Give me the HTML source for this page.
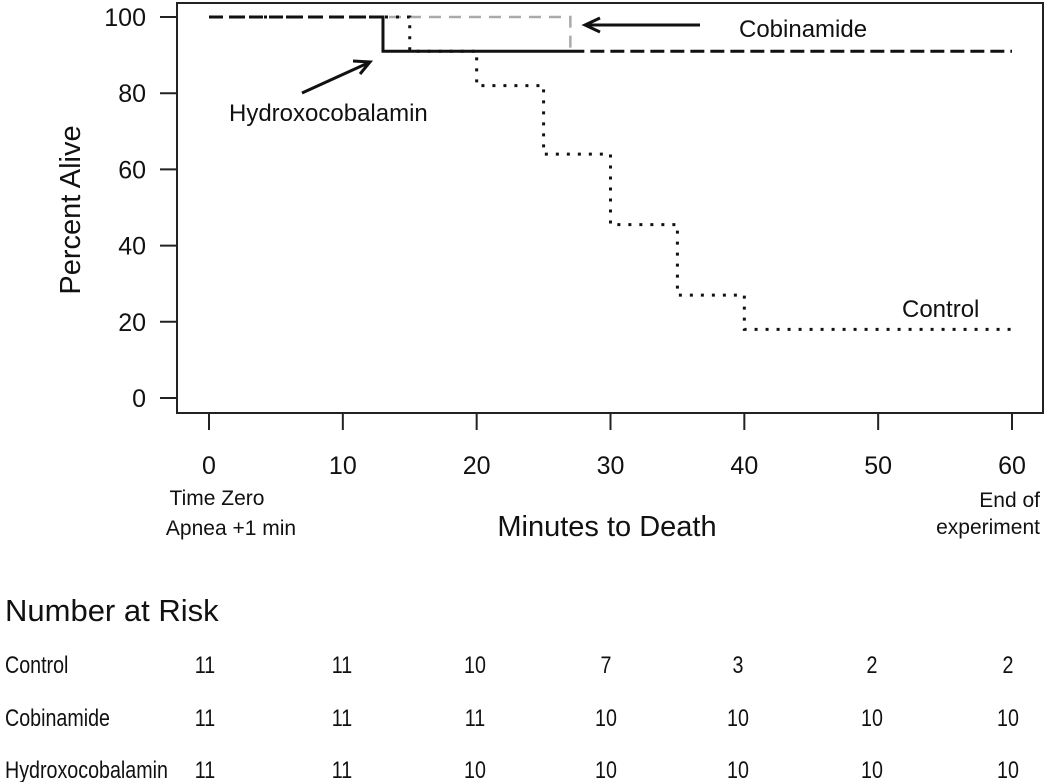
<!DOCTYPE html>
<html><head><meta charset="utf-8"><style>
body{margin:0;background:#fff}
svg{display:block;font-family:"Liberation Sans",sans-serif}
</style></head><body>
<svg id="c" width="1050" height="782" xmlns="http://www.w3.org/2000/svg"></svg>
<script>
const xTicks=[0,10,20,30,40,50,60];
const yTicks=[0,20,40,60,80,100];
const controlT=[0,15,20,25,30,35,40,60];
const controlS=[100,91,82,64,45.5,27,18,18];
const cobT=[0,27,60];
const cobS=[100,91,91];
const hydT=[0,13,60];
const hydS=[100,91,91];
const riskGroups=["Control","Cobinamide","Hydroxocobalamin"];
const riskControl=[11,11,10,7,3,2,2];
const riskCob=[11,11,11,10,10,10,10];
const riskHyd=[11,11,10,10,10,10,10];
const riskX=[205,342,475,606,738,872,1008];

const NS="http://www.w3.org/2000/svg";
const svg=document.getElementById('c');
const X=t=>209+t*(1012-209)/60;
const Y=v=>398-v*(398-17)/100;
function el(tag,attrs,parent){const e=document.createElementNS(NS,tag);for(const k in attrs)e.setAttribute(k,attrs[k]);(parent||svg).appendChild(e);return e;}
function txt(s,x,y,size,anchor,name,extra){const e=el('text',Object.assign({x:x,y:y,'font-size':size,'text-anchor':anchor||'start',fill:'#111'},extra||{}));e.textContent=s;


return e;}
const box=el('rect',{x:177,y:3,width:866,height:410,fill:'none',stroke:'#222','stroke-width':2});


xTicks.forEach(t=>{const l=el('line',{x1:X(t),x2:X(t),y1:413,y2:430,stroke:'#222','stroke-width':2});


txt(String(t),X(t),474,25,'middle','x-tick-label');});
yTicks.forEach(v=>{const l=el('line',{x1:160,x2:177,y1:Y(v),y2:Y(v),stroke:'#222','stroke-width':2});


txt(String(v),146,Y(v)+9,25,'end','y-tick-label');});
function stepPath(T,S){let d=`M${X(T[0])},${Y(S[0])}`;for(let i=1;i<T.length;i++){d+=` H${X(T[i])}`;if(S[i]!==S[i-1])d+=` V${Y(S[i])}`;}return d;}
const cob=el('path',{d:stepPath(cobT,cobS),fill:'none',stroke:'#aaa','stroke-width':2.5,'stroke-dasharray':'12,8'});


const hyd=el('path',{d:stepPath(hydT,hydS),fill:'none',stroke:'#111','stroke-width':3});


const ov=el('path',{d:`M${X(cobT[1])},${Y(91)} H${X(60)} M${X(0)},${Y(100)} H${X(hydT[1])}`,fill:'none',stroke:'#fff','stroke-width':4,'stroke-dasharray':'0,14,6,0'});


const ctl=el('path',{d:stepPath(controlT,controlS),fill:'none',stroke:'#111','stroke-width':3,'stroke-dasharray':'3,8'});


const a1=el('path',{d:'M700,25 H588 M600,18 L585,25 L600,32',fill:'none',stroke:'#111','stroke-width':3});


const a2=el('path',{d:'M302,93 L368,63 M353,61 L370,62 L360,74',fill:'none',stroke:'#111','stroke-width':3});


txt('Cobinamide',739,37,24,'start','cobinamide-label');
txt('Hydroxocobalamin',229,121,24,'start','hydroxocobalamin-label');
txt('Control',902,317,24,'start','control-label');
txt('Percent Alive',0,0,29,'middle','y-axis-title',{transform:'translate(80,210) rotate(-90)'});
txt('Minutes to Death',607,536,29,'middle','x-axis-title');
txt('Time Zero',217,505,21,'middle','time-zero-note');
txt('Apnea +1 min',231,535,21,'middle','apnea-note');
txt('End of',1040,507,21,'end','end-note');
txt('experiment',1040,534,21,'end','experiment-note');
txt('Number at Risk',5,621,31,'start','risk-table-title');
const rows=[riskControl,riskCob,riskHyd];const rowY=[673,726,778];
const sx=0.82;
rows.forEach((r,i)=>{txt(riskGroups[i],5/sx,rowY[i],24,'start','risk-row-label',{transform:`scale(${sx},1)`});
r.forEach((n,j)=>txt(String(n),riskX[j]/sx,rowY[i],24,'middle','risk-count',{transform:`scale(${sx},1)`}));});
</script>
</body></html>
